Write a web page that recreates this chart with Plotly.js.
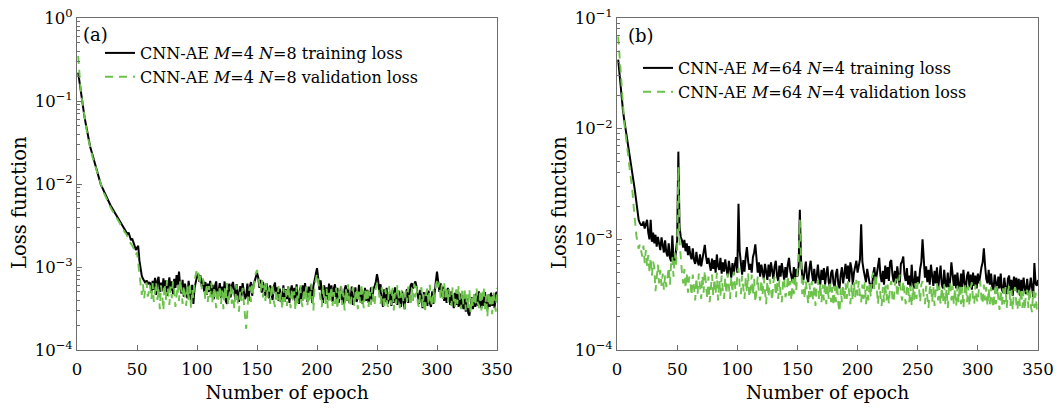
<!DOCTYPE html>
<html>
<head>
<meta charset="utf-8">
<script src="https://cdn.plot.ly/plotly-3.0.1.min.js"></script>
<style>
html,body{margin:0;padding:0;background:#fff;}
#chart{width:1059px;height:408px;}
</style>
</head>
<body>
<div id="chart"></div>
<script>
// ---------- data ----------
const epochCount = 350;
const epochs = Array.from({length: epochCount}, (_, i) => i + 1);
const xTickVals = [0, 50, 100, 150, 200, 250, 300, 350];

const seriesNames = [
  'CNN-AE <i>M</i>=4 <i>N</i>=8 training loss',
  'CNN-AE <i>M</i>=4 <i>N</i>=8 validation loss',
  'CNN-AE <i>M</i>=64 <i>N</i>=4 training loss',
  'CNN-AE <i>M</i>=64 <i>N</i>=4 validation loss'
];
const panelLabels = ['(a)', '(b)'];
const xTitle = 'Number of epoch';
const yTitle = 'Loss function';

// (a) M=4 N=8 training loss
const trainA = [
0.22,0.17,0.13,0.105,0.083,0.068,0.056,0.046,0.038,0.032,
0.028,0.025,0.022,0.0196,0.0175,0.0155,0.0138,0.0122,0.0108,0.0097,
0.0091,0.0084,0.0078,0.0072,0.0068,0.0063,0.0059,0.0055,0.0052,0.0049,
0.0046,0.0043,0.0041,0.0039,0.0037,0.0035,0.0033,0.0031,0.0029,0.0028,
0.0027,0.0025,0.0026,0.0023,0.0021,0.0022,0.0019,0.0018,0.0016,0.0017,
0.0018,0.0012,9.2e-4,7.8e-4,7.2e-4,6.8e-4,6.4e-4,6.9e-4,6.2e-4,6.5e-4,
6.4e-4,4.9e-4,6.8e-4,5.3e-4,7.4e-4,4.6e-4,6.9e-4,7.6e-4,5.0e-4,6.5e-4,
5.1e-4,7.3e-4,5.6e-4,6.9e-4,4.5e-4,6.2e-4,7.5e-4,5.2e-4,6.7e-4,4.7e-4,
7.2e-4,5.6e-4,8.0e-4,6.0e-4,8.8e-4,5.8e-4,4.8e-4,7.0e-4,4.4e-4,6.3e-4,
5.4e-4,4.2e-4,6.8e-4,4.8e-4,3.9e-4,6.1e-4,3.6e-4,5.6e-4,6.9e-4,7.7e-4,
8.3e-4,6.6e-4,7.9e-4,5.8e-4,7.2e-4,5.0e-4,6.6e-4,4.6e-4,6.3e-4,5.0e-4,
6.8e-4,4.5e-4,6.1e-4,4.1e-4,5.9e-4,6.7e-4,4.3e-4,5.7e-4,6.4e-4,4.2e-4,
5.8e-4,4.5e-4,6.7e-4,3.9e-4,3.6e-4,5.6e-4,6.3e-4,4.3e-4,6.0e-4,6.6e-4,
4.6e-4,4.0e-4,6.2e-4,5.0e-4,3.8e-4,5.9e-4,4.4e-4,6.4e-4,5.1e-4,4.1e-4,
4.5e-4,6.3e-4,3.9e-4,5.8e-4,6.6e-4,4.5e-4,6.0e-4,6.9e-4,7.3e-4,8.5e-4,
7.5e-4,5.6e-4,7.0e-4,4.9e-4,6.6e-4,5.3e-4,4.5e-4,6.4e-4,5.1e-4,4.2e-4,
6.0e-4,4.8e-4,4.0e-4,5.8e-4,6.5e-4,4.3e-4,5.7e-4,3.9e-4,5.5e-4,3.8e-4,
4.3e-4,6.0e-4,3.8e-4,5.4e-4,4.1e-4,5.8e-4,3.7e-4,5.3e-4,6.0e-4,4.2e-4,
5.6e-4,3.9e-4,6.2e-4,4.3e-4,3.6e-4,5.7e-4,4.1e-4,6.0e-4,4.4e-4,6.4e-4,
4.5e-4,3.8e-4,5.8e-4,4.2e-4,6.2e-4,3.7e-4,5.9e-4,6.8e-4,7.9e-4,9.7e-4,
7.4e-4,5.3e-4,6.9e-4,4.5e-4,3.7e-4,6.0e-4,4.3e-4,5.7e-4,4.0e-4,6.3e-4,
4.4e-4,6.0e-4,3.8e-4,5.5e-4,6.2e-4,4.1e-4,5.6e-4,3.7e-4,4.3e-4,5.9e-4,
4.0e-4,3.6e-4,5.4e-4,6.0e-4,3.9e-4,5.5e-4,3.7e-4,4.2e-4,5.8e-4,3.5e-4,
4.1e-4,5.7e-4,3.8e-4,4.3e-4,6.1e-4,3.9e-4,5.4e-4,3.6e-4,4.2e-4,5.6e-4,
3.9e-4,5.3e-4,3.7e-4,4.1e-4,5.7e-4,4.0e-4,5.4e-4,5.9e-4,6.6e-4,8.2e-4,
6.8e-4,4.7e-4,6.2e-4,4.1e-4,3.3e-4,5.4e-4,3.8e-4,5.6e-4,3.6e-4,4.1e-4,
4.9e-4,3.4e-4,5.3e-4,3.7e-4,5.7e-4,4.0e-4,3.5e-4,5.2e-4,3.8e-4,3.3e-4,
5.1e-4,3.6e-4,3.1e-4,4.9e-4,5.4e-4,3.7e-4,5.2e-4,6.0e-4,6.4e-4,5.5e-4,
6.2e-4,6.7e-4,5.8e-4,4.1e-4,3.6e-4,5.3e-4,3.8e-4,3.2e-4,5.0e-4,3.5e-4,
4.9e-4,3.4e-4,5.2e-4,3.7e-4,3.3e-4,5.1e-4,3.6e-4,5.5e-4,6.6e-4,8.8e-4,
6.9e-4,5.0e-4,6.4e-4,4.4e-4,5.8e-4,3.9e-4,5.3e-4,3.7e-4,5.6e-4,4.0e-4,
3.5e-4,5.1e-4,3.7e-4,3.2e-4,4.9e-4,3.5e-4,5.0e-4,3.3e-4,4.8e-4,3.2e-4,
4.6e-4,3.1e-4,4.4e-4,2.9e-4,4.2e-4,2.8e-4,2.6e-4,3.7e-4,4.3e-4,3.1e-4,
4.7e-4,3.3e-4,4.9e-4,3.4e-4,5.1e-4,3.6e-4,3.2e-4,4.8e-4,3.4e-4,5.0e-4,
3.5e-4,3.1e-4,4.7e-4,3.3e-4,4.9e-4,3.4e-4,4.6e-4,3.2e-4,4.8e-4,5.0e-4
];

// (a) M=4 N=8 validation loss
const validA = [
0.35,0.2,0.14,0.108,0.084,0.067,0.055,0.045,0.037,0.031,
0.027,0.024,0.021,0.0188,0.0168,0.0149,0.0132,0.0117,0.0104,0.0093,
0.0087,0.0080,0.0075,0.0069,0.0065,0.0060,0.0056,0.0052,0.0049,0.0046,
0.0044,0.0041,0.0039,0.0037,0.0035,0.0033,0.0031,0.0029,0.0027,0.0026,
0.0025,0.0023,0.0022,0.0020,0.0019,0.0018,0.0017,0.0015,0.0014,0.0015,
0.0011,8.2e-4,6.0e-4,4.6e-4,6.2e-4,4.2e-4,5.8e-4,6.5e-4,4.4e-4,5.4e-4,
6.0e-4,4.1e-4,6.4e-4,3.8e-4,5.6e-4,6.6e-4,4.0e-4,5.4e-4,3.1e-4,6.0e-4,
4.6e-4,3.0e-4,6.3e-4,4.0e-4,6.9e-4,4.8e-4,3.5e-4,5.8e-4,4.2e-4,6.7e-4,
5.3e-4,3.3e-4,4.8e-4,6.2e-4,3.9e-4,7.0e-4,5.2e-4,3.6e-4,6.0e-4,4.4e-4,
3.4e-4,5.8e-4,4.0e-4,6.5e-4,3.2e-4,5.4e-4,4.2e-4,6.9e-4,7.9e-4,9.5e-4,
8.6e-4,6.2e-4,7.8e-4,5.4e-4,7.2e-4,4.8e-4,4.0e-4,6.3e-4,3.8e-4,5.9e-4,
4.3e-4,6.5e-4,3.6e-4,5.7e-4,4.0e-4,3.2e-4,5.5e-4,3.9e-4,6.0e-4,3.6e-4,
5.2e-4,3.1e-4,5.7e-4,4.0e-4,6.4e-4,3.5e-4,4.3e-4,5.9e-4,3.6e-4,5.3e-4,
3.2e-4,4.4e-4,6.1e-4,3.7e-4,2.9e-4,5.2e-4,3.9e-4,5.6e-4,3.4e-4,2.6e-4,
1.8e-4,3.5e-4,4.9e-4,5.8e-4,3.8e-4,6.5e-4,4.7e-4,7.6e-4,8.3e-4,9.2e-4,
7.9e-4,5.8e-4,5.0e-4,7.2e-4,4.3e-4,6.0e-4,3.9e-4,6.4e-4,4.3e-4,5.7e-4,
3.6e-4,5.4e-4,6.2e-4,3.9e-4,3.3e-4,5.3e-4,4.0e-4,5.9e-4,3.6e-4,4.9e-4,
3.1e-4,5.6e-4,3.8e-4,5.3e-4,3.4e-4,6.0e-4,4.1e-4,3.2e-4,5.5e-4,3.9e-4,
5.1e-4,3.0e-4,5.8e-4,3.6e-4,4.8e-4,6.1e-4,3.8e-4,3.3e-4,5.4e-4,4.0e-4,
5.8e-4,3.4e-4,5.0e-4,3.7e-4,6.3e-4,4.1e-4,3.0e-4,5.9e-4,7.0e-4,8.3e-4,
6.9e-4,5.0e-4,3.9e-4,3.3e-4,6.1e-4,4.2e-4,3.6e-4,5.5e-4,3.2e-4,5.3e-4,
3.8e-4,5.9e-4,3.4e-4,5.0e-4,3.6e-4,5.6e-4,3.1e-4,5.1e-4,3.8e-4,6.0e-4,
3.5e-4,4.9e-4,3.0e-4,5.4e-4,3.8e-4,6.2e-4,3.6e-4,3.3e-4,5.0e-4,5.7e-4,
3.4e-4,4.8e-4,5.5e-4,3.1e-4,5.1e-4,3.7e-4,6.3e-4,4.1e-4,3.2e-4,5.4e-4,
3.8e-4,5.6e-4,3.3e-4,5.0e-4,3.5e-4,5.8e-4,3.9e-4,3.4e-4,5.5e-4,6.4e-4,
5.9e-4,4.3e-4,3.6e-4,5.7e-4,3.9e-4,3.1e-4,5.4e-4,3.8e-4,3.3e-4,5.9e-4,
4.1e-4,3.5e-4,5.6e-4,3.0e-4,4.9e-4,3.6e-4,6.1e-4,4.4e-4,3.2e-4,4.8e-4,
5.5e-4,3.7e-4,3.1e-4,5.2e-4,3.8e-4,5.8e-4,4.2e-4,3.4e-4,5.6e-4,3.9e-4,
6.3e-4,4.3e-4,5.9e-4,3.7e-4,3.2e-4,5.0e-4,5.7e-4,3.3e-4,4.7e-4,2.8e-4,
4.9e-4,5.5e-4,3.5e-4,6.1e-4,3.9e-4,3.3e-4,5.4e-4,3.7e-4,6.0e-4,6.8e-4,
5.7e-4,6.6e-4,4.2e-4,6.1e-4,3.9e-4,6.4e-4,4.3e-4,5.8e-4,3.7e-4,5.5e-4,
4.0e-4,3.4e-4,5.7e-4,3.8e-4,3.3e-4,5.4e-4,3.6e-4,5.9e-4,4.0e-4,3.1e-4,
5.2e-4,3.5e-4,5.6e-4,3.0e-4,4.7e-4,3.2e-4,5.4e-4,2.8e-4,4.5e-4,3.3e-4,
5.1e-4,3.4e-4,5.5e-4,3.7e-4,3.2e-4,5.3e-4,3.0e-4,4.9e-4,5.7e-4,3.1e-4,
4.5e-4,2.5e-4,5.0e-4,3.3e-4,4.8e-4,2.7e-4,5.1e-4,3.4e-4,2.9e-4,5.6e-4
];

// (b) M=64 N=4 training loss
const trainB = [
0.042,0.031,0.023,0.018,0.0145,0.012,0.0102,0.0088,0.0077,0.0068,
0.0056,0.0046,0.0038,0.0032,0.0027,0.0022,0.0018,0.0015,0.0014,0.00135,
1.35e-3,1.45e-3,1.25e-3,1.4e-3,1.5e-3,1.15e-3,1.0e-3,1.5e-3,9.5e-4,1.15e-3,
9.2e-4,1.1e-3,8.6e-4,1.05e-3,9.3e-4,8.0e-4,1.04e-3,8.7e-4,7.6e-4,9.8e-4,
7.6e-4,7.0e-4,9.2e-4,6.8e-4,6.3e-4,1.08e-3,6.6e-4,6.2e-4,8.0e-4,9.8e-4,
6.2e-3,1.3e-3,1.05e-3,9.8e-4,8.4e-4,9.9e-4,7.8e-4,9.2e-4,7.2e-4,8.7e-4,
7.2e-4,6.6e-4,8.3e-4,6.5e-4,6.0e-4,7.7e-4,6.3e-4,5.8e-4,7.3e-4,5.7e-4,
6.6e-4,8.0e-4,8.9e-4,7.0e-4,6.0e-4,6.8e-4,5.6e-4,5.2e-4,6.7e-4,5.4e-4,
6.5e-4,5.0e-4,7.3e-4,5.7e-4,5.3e-4,6.8e-4,4.9e-4,6.2e-4,5.1e-4,6.6e-4,
5.4e-4,4.7e-4,6.4e-4,5.0e-4,4.5e-4,6.1e-4,4.8e-4,5.9e-4,6.9e-4,5.0e-4,
2.1e-3,7.8e-4,5.6e-4,4.8e-4,6.5e-4,5.1e-4,7.0e-4,8.5e-4,6.4e-4,5.3e-4,
6.0e-4,5.0e-4,6.9e-4,7.6e-4,9.0e-4,6.8e-4,5.0e-4,6.2e-4,4.6e-4,5.9e-4,
5.0e-4,4.4e-4,6.0e-4,4.8e-4,4.3e-4,5.9e-4,4.6e-4,6.2e-4,5.0e-4,4.4e-4,
5.7e-4,6.4e-4,4.7e-4,4.2e-4,5.8e-4,4.6e-4,6.1e-4,4.9e-4,4.3e-4,5.6e-4,
4.5e-4,5.9e-4,6.8e-4,5.2e-4,4.5e-4,4.1e-4,5.6e-4,4.4e-4,5.4e-4,4.6e-4,
5.8e-4,1.85e-3,6.6e-4,4.6e-4,4.3e-4,5.6e-4,6.3e-4,4.5e-4,4.1e-4,5.5e-4,
6.4e-4,5.0e-4,4.2e-4,5.4e-4,4.0e-4,4.6e-4,5.9e-4,4.5e-4,3.9e-4,5.3e-4,
4.3e-4,5.5e-4,3.9e-4,4.9e-4,5.7e-4,4.1e-4,3.7e-4,5.0e-4,5.3e-4,4.0e-4,
3.7e-4,4.9e-4,5.4e-4,3.9e-4,3.6e-4,4.8e-4,5.6e-4,4.0e-4,5.1e-4,6.0e-4,
4.4e-4,5.8e-4,4.1e-4,6.2e-4,5.4e-4,3.9e-4,5.0e-4,5.8e-4,6.4e-4,5.0e-4,
5.8e-4,6.6e-4,1.37e-3,6.3e-4,5.3e-4,4.6e-4,4.1e-4,5.4e-4,4.4e-4,4.0e-4,
3.9e-4,3.6e-4,4.9e-4,5.6e-4,4.1e-4,5.0e-4,6.0e-4,6.8e-4,4.7e-4,4.1e-4,
5.2e-4,3.9e-4,5.8e-4,4.4e-4,5.6e-4,4.2e-4,6.2e-4,6.5e-4,4.8e-4,4.1e-4,
5.2e-4,4.0e-4,5.7e-4,4.5e-4,3.8e-4,6.0e-4,6.3e-4,7.0e-4,4.8e-4,4.2e-4,
5.5e-4,3.9e-4,4.7e-4,3.7e-4,5.9e-4,4.1e-4,3.6e-4,5.2e-4,4.0e-4,4.6e-4,
4.0e-4,5.4e-4,6.2e-4,1.0e-3,6.4e-4,4.5e-4,5.7e-4,4.1e-4,5.3e-4,3.9e-4,
5.9e-4,4.4e-4,3.8e-4,5.2e-4,4.0e-4,5.6e-4,3.6e-4,4.5e-4,5.8e-4,3.9e-4,
3.6e-4,5.3e-4,4.0e-4,3.7e-4,5.0e-4,3.5e-4,4.3e-4,6.2e-4,4.8e-4,3.8e-4,
4.8e-4,3.6e-4,5.0e-4,3.8e-4,3.5e-4,4.9e-4,3.7e-4,5.3e-4,4.0e-4,3.5e-4,
4.7e-4,5.1e-4,3.7e-4,4.8e-4,3.5e-4,5.0e-4,3.8e-4,4.7e-4,3.6e-4,4.9e-4,
4.0e-4,5.1e-4,5.6e-4,6.2e-4,8.3e-4,5.8e-4,4.4e-4,4.0e-4,5.3e-4,3.9e-4,
4.9e-4,3.7e-4,3.5e-4,4.8e-4,3.9e-4,3.4e-4,4.6e-4,3.6e-4,4.9e-4,3.5e-4,
3.3e-4,4.5e-4,3.6e-4,3.2e-4,4.4e-4,4.7e-4,3.4e-4,4.3e-4,3.1e-4,4.6e-4,
3.6e-4,4.5e-4,3.3e-4,4.4e-4,3.1e-4,4.3e-4,3.4e-4,4.5e-4,3.6e-4,3.2e-4,
4.4e-4,3.3e-4,3.6e-4,4.5e-4,3.7e-4,3.0e-4,6.1e-4,4.0e-4,3.8e-4,4.3e-4
];

// (b) M=64 N=4 validation loss
const validB = [
0.068,0.046,0.030,0.021,0.015,0.0115,0.0092,0.0075,0.0062,0.0051,
0.0042,0.0033,0.0026,0.0019,0.0014,0.0011,9.5e-4,8.2e-4,9.0e-4,7.8e-4,
7.0e-4,8.8e-4,6.1e-4,8.0e-4,5.7e-4,7.2e-4,5.0e-4,6.8e-4,4.7e-4,6.3e-4,
5.6e-4,3.4e-4,4.9e-4,5.9e-4,4.0e-4,5.3e-4,3.8e-4,4.9e-4,3.5e-4,4.7e-4,
3.7e-4,4.8e-4,5.6e-4,3.9e-4,6.1e-4,6.9e-4,4.6e-4,7.6e-4,5.9e-4,8.2e-4,
4.5e-3,9.5e-4,6.0e-4,5.0e-4,4.0e-4,5.4e-4,3.6e-4,5.0e-4,3.3e-4,4.6e-4,
4.2e-4,3.1e-4,4.8e-4,3.4e-4,2.8e-4,4.5e-4,3.2e-4,4.9e-4,3.5e-4,2.9e-4,
4.7e-4,3.3e-4,5.2e-4,3.8e-4,2.9e-4,4.6e-4,2.7e-4,3.6e-4,4.8e-4,3.1e-4,
4.4e-4,3.2e-4,5.0e-4,2.8e-4,4.3e-4,3.1e-4,4.7e-4,3.4e-4,2.9e-4,4.5e-4,
3.2e-4,4.9e-4,3.5e-4,2.9e-4,4.6e-4,3.3e-4,5.1e-4,3.7e-4,3.0e-4,4.8e-4,
5.5e-4,3.8e-4,3.2e-4,4.7e-4,3.4e-4,2.9e-4,4.5e-4,3.3e-4,4.9e-4,3.0e-4,
3.5e-4,4.8e-4,3.1e-4,4.4e-4,2.7e-4,3.4e-4,4.6e-4,3.2e-4,2.8e-4,4.3e-4,
3.1e-4,4.5e-4,3.3e-4,2.6e-4,4.2e-4,3.0e-4,4.4e-4,3.2e-4,2.8e-4,4.1e-4,
4.6e-4,3.1e-4,4.2e-4,2.9e-4,4.3e-4,3.2e-4,2.7e-4,4.1e-4,4.5e-4,3.0e-4,
3.3e-4,4.7e-4,3.1e-4,4.2e-4,2.8e-4,4.4e-4,3.2e-4,4.8e-4,3.4e-4,5.2e-4,
7.0e-4,1.5e-3,5.6e-4,3.2e-4,4.3e-4,2.9e-4,4.2e-4,3.1e-4,2.6e-4,4.0e-4,
3.0e-4,4.2e-4,2.8e-4,3.9e-4,2.5e-4,3.8e-4,4.3e-4,2.9e-4,4.0e-4,2.7e-4,
3.9e-4,2.8e-4,4.1e-4,2.6e-4,3.8e-4,2.9e-4,4.2e-4,2.7e-4,3.7e-4,2.5e-4,
3.8e-4,2.7e-4,4.0e-4,2.6e-4,2.2e-4,3.6e-4,2.7e-4,3.9e-4,2.8e-4,4.0e-4,
2.9e-4,4.2e-4,3.0e-4,2.6e-4,3.9e-4,2.8e-4,4.1e-4,3.0e-4,4.3e-4,3.1e-4,
4.2e-4,3.0e-4,2.7e-4,3.9e-4,2.9e-4,4.1e-4,2.6e-4,3.8e-4,2.8e-4,4.0e-4,
3.0e-4,4.6e-4,5.0e-4,3.5e-4,4.9e-4,3.1e-4,2.6e-4,4.0e-4,2.9e-4,2.5e-4,
3.7e-4,2.7e-4,4.0e-4,2.8e-4,3.9e-4,2.6e-4,3.8e-4,4.2e-4,2.9e-4,2.7e-4,
3.9e-4,4.4e-4,3.0e-4,4.1e-4,4.8e-4,3.3e-4,2.8e-4,4.2e-4,3.0e-4,2.6e-4,
3.6e-4,3.9e-4,2.7e-4,3.8e-4,2.5e-4,3.7e-4,2.8e-4,4.0e-4,2.9e-4,4.1e-4,
3.8e-4,2.7e-4,3.9e-4,4.2e-4,3.0e-4,2.6e-4,3.8e-4,2.8e-4,2.4e-4,3.6e-4,
3.9e-4,2.7e-4,3.7e-4,2.5e-4,3.6e-4,4.0e-4,2.8e-4,3.8e-4,2.6e-4,3.7e-4,
2.7e-4,3.9e-4,2.6e-4,3.6e-4,2.4e-4,3.7e-4,4.1e-4,2.8e-4,3.8e-4,2.6e-4,
3.6e-4,2.5e-4,3.8e-4,2.7e-4,3.9e-4,2.6e-4,3.7e-4,2.4e-4,3.5e-4,4.0e-4,
2.7e-4,3.8e-4,2.5e-4,3.6e-4,4.1e-4,2.8e-4,2.6e-4,3.9e-4,2.9e-4,2.7e-4,
3.8e-4,4.2e-4,2.9e-4,2.6e-4,3.9e-4,2.8e-4,3.7e-4,2.5e-4,3.6e-4,2.6e-4,
3.7e-4,2.7e-4,2.4e-4,3.6e-4,2.6e-4,3.8e-4,2.7e-4,2.3e-4,3.5e-4,2.5e-4,
3.6e-4,2.6e-4,3.7e-4,2.4e-4,3.4e-4,3.8e-4,2.5e-4,3.5e-4,2.3e-4,3.4e-4,
3.7e-4,2.6e-4,2.3e-4,3.5e-4,2.5e-4,3.6e-4,2.4e-4,3.4e-4,2.3e-4,3.3e-4,
3.5e-4,2.4e-4,3.6e-4,2.5e-4,2.2e-4,3.4e-4,2.4e-4,3.3e-4,2.3e-4,2.6e-4
];

// ---------- styling ----------
const FONT = 'DejaVu Serif, Liberation Serif, serif';
const BLACK = '#000000';
const GREEN = '#6cc24a';
const AXIS_GREY = '#6e6e6e';

function decadeTicks(lo, hi) {
  const vals = [], text = [];
  for (let e = lo; e <= hi; e++) {
    vals.push(Math.pow(10, e));
    text.push('10<sup>' + (e < 0 ? '\u2212' + (-e) : e) + '</sup>');
  }
  return {vals, text};
}
function minorTicks(lo, hi) {
  const v = [];
  for (let e = lo; e < hi; e++) for (let m = 2; m <= 9; m++) v.push(m * Math.pow(10, e));
  return v;
}

const tA = decadeTicks(-4, 0);
const tB = decadeTicks(-4, -1);

const W = 1059, H = 408;
const px = x => x / W;
const py = y => 1 - y / H;

const xCommon = {
  range: [0, 350],
  tickmode: 'array',
  tickvals: xTickVals,
  ticks: 'inside',
  ticklen: 5,
  tickcolor: AXIS_GREY,
  ticklabelstandoff: 4,
  showline: true,
  linecolor: AXIS_GREY,
  linewidth: 1,
  mirror: true,
  showgrid: false,
  zeroline: false,
  tickfont: {family: FONT, size: 16.5, color: '#000'},
  title: {text: xTitle, font: {family: FONT, size: 18.5, color: '#000'}, standoff: 8}
};
function yAxis(t, lo, hi, anchor) {
  return {
    type: 'log',
    range: [lo, hi],
    anchor: anchor,
    tickmode: 'array',
    tickvals: t.vals,
    ticktext: t.text,
    ticks: 'inside',
    ticklen: 5,
    tickcolor: AXIS_GREY,
    minor: {tickmode: 'array', tickvals: minorTicks(lo, hi), ticks: 'inside', ticklen: 3, tickcolor: AXIS_GREY, showgrid: false},
    showline: true,
    linecolor: AXIS_GREY,
    linewidth: 1,
    mirror: true,
    showgrid: false,
    zeroline: false,
    tickfont: {family: FONT, size: 16.5, color: '#000'},
    domain: [py(350), py(18)]
  };
}

const traces = [
  {x: epochs, y: trainA, name: seriesNames[0], type: 'scatter', mode: 'lines', line: {color: BLACK, width: 2}, xaxis: 'x', yaxis: 'y', legend: 'legend'},
  {x: epochs, y: validA, name: seriesNames[1], type: 'scatter', mode: 'lines', line: {color: GREEN, width: 1.9, dash: '8px,6px'}, xaxis: 'x', yaxis: 'y', legend: 'legend'},
  {x: epochs, y: trainB, name: seriesNames[2], type: 'scatter', mode: 'lines', line: {color: BLACK, width: 2}, xaxis: 'x2', yaxis: 'y2', legend: 'legend2'},
  {x: epochs, y: validB, name: seriesNames[3], type: 'scatter', mode: 'lines', line: {color: GREEN, width: 1.9, dash: '8px,6px'}, xaxis: 'x2', yaxis: 'y2', legend: 'legend2'}
];

const legendCommon = {
  xanchor: 'left', yanchor: 'top',
  bgcolor: 'rgba(0,0,0,0)', borderwidth: 0,
  font: {family: FONT, size: 16, color: '#000'},
  tracegroupgap: 0
};

const layout = {
  width: W, height: H,
  margin: {l: 0, r: 0, t: 0, b: 0},
  paper_bgcolor: '#fff', plot_bgcolor: '#fff',
  showlegend: true,
  xaxis: Object.assign({}, xCommon, {domain: [px(77), px(497)], anchor: 'y'}),
  yaxis: yAxis(tA, -4, 0, 'x'),
  xaxis2: Object.assign({}, xCommon, {domain: [px(617), px(1038)], anchor: 'y2'}),
  yaxis2: yAxis(tB, -4, -1, 'x2'),
  legend: Object.assign({}, legendCommon, {x: px(100), y: py(36)}),
  legend2: Object.assign({}, legendCommon, {x: px(638), y: py(51)}),
  annotations: [
    {text: panelLabels[0], xref: 'paper', yref: 'paper', x: px(81), y: py(34), xanchor: 'left', yanchor: 'middle', showarrow: false, font: {family: FONT, size: 18, color: '#000'}},
    {text: panelLabels[1], xref: 'paper', yref: 'paper', x: px(626), y: py(35), xanchor: 'left', yanchor: 'middle', showarrow: false, font: {family: FONT, size: 18, color: '#000'}},
    {text: yTitle, xref: 'paper', yref: 'paper', x: px(19), y: py(203), xanchor: 'center', yanchor: 'middle', textangle: -90, showarrow: false, font: {family: FONT, size: 19.5, color: '#000'}},
    {text: yTitle, xref: 'paper', yref: 'paper', x: px(559), y: py(203), xanchor: 'center', yanchor: 'middle', textangle: -90, showarrow: false, font: {family: FONT, size: 19.5, color: '#000'}}
  ]
};

Plotly.newPlot('chart', traces, layout, {displayModeBar: false, staticPlot: true});
</script>
</body>
</html>
